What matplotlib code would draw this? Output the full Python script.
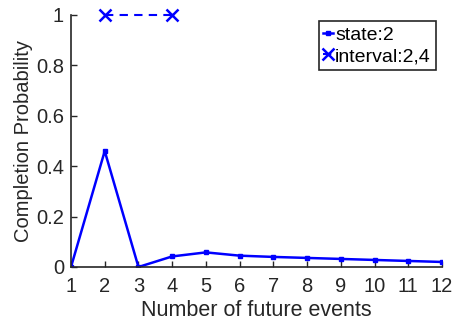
import matplotlib
matplotlib.use("Agg")
import matplotlib.pyplot as plt

# data
events = [1, 2, 3, 4, 5, 6, 7, 8, 9, 10, 11, 12]
state_prob = [0.0, 0.46, 0.0, 0.042, 0.058, 0.045, 0.040, 0.036, 0.032, 0.028, 0.024, 0.020]
interval_x = [2, 4]
interval_y = [1, 1]

plt.rcParams['font.family'] = ['Liberation Sans', 'DejaVu Sans']
dark = '#262626'

fig = plt.figure(figsize=(4.53, 3.2), dpi=100)
ax = fig.add_axes([71 / 453, 1 - 267 / 320, (442 - 71) / 453, (267 - 15) / 320])

ax.plot(events, state_prob, color='blue', lw=1.8, marker='s', ms=3.5, label='state:2')
ax.plot(interval_x, interval_y, color='blue', lw=1.5, ls=(0, (4, 3)), marker='x', ms=8,
        mew=1.8, label='interval:2,4', clip_on=False)

ax.set_xlim(1, 12)
ax.set_ylim(0, 1)
ax.set_xticks(events)
ax.set_yticks([0, 0.2, 0.4, 0.6, 0.8, 1])
ax.set_yticklabels(['0', '0.2', '0.4', '0.6', '0.8', '1'])
ax.tick_params(direction='in', length=4, width=1, colors=dark, labelsize=14.5)
ax.tick_params(axis='x', pad=7)
ax.tick_params(axis='y', pad=5)
for s in ['top', 'right']:
    ax.spines[s].set_visible(False)
for s in ['left', 'bottom']:
    ax.spines[s].set_color(dark)
    ax.spines[s].set_linewidth(1.2)

ax.set_xlabel('Number of future events', fontsize=15.5, color=dark, labelpad=3)
ax.set_ylabel('Completion Probability', fontsize=14.5, color=dark, labelpad=2)

leg = ax.legend(loc='upper right', bbox_to_anchor=(0.983, 0.975), fontsize=14,
                handlelength=0.5, handletextpad=0.1, borderpad=0.25, labelspacing=0.2,
                borderaxespad=0, fancybox=False, framealpha=1, markerscale=1)
leg.get_frame().set_edgecolor(dark)
leg.get_frame().set_linewidth(1.2)

fig.savefig('out.png', dpi=100)
